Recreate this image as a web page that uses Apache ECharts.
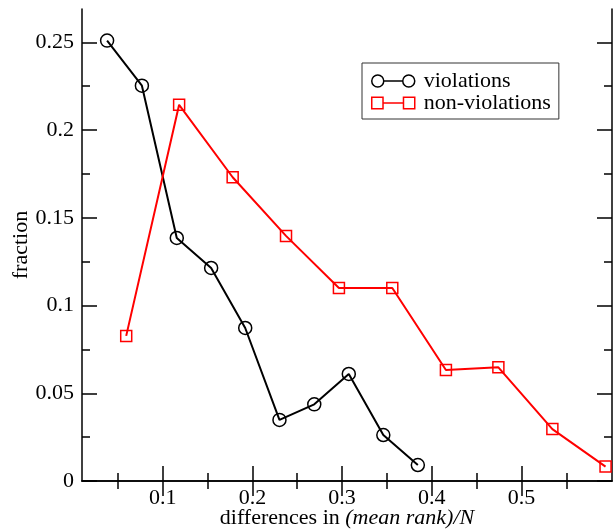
<!DOCTYPE html>
<html>
<head>
<meta charset="utf-8">
<script src="https://cdn.jsdelivr.net/npm/echarts@6/dist/echarts.min.js"></script>
<style>
  html, body { margin: 0; padding: 0; background: #fff; }
  #chart { width: 613px; height: 531px; }
</style>
</head>
<body>
<div id="chart"></div>
<script>
// values
const violX = [0.038, 0.0768, 0.1157, 0.154, 0.192, 0.2302, 0.269, 0.3075, 0.346, 0.3845];
const violY = [0.251, 0.2253, 0.1385, 0.1214, 0.0872, 0.0348, 0.0437, 0.061, 0.0262, 0.0091];
const nonX = [0.0593, 0.1183, 0.178, 0.2375, 0.2965, 0.356, 0.4158, 0.4743, 0.5345, 0.5938];
const nonY = [0.0827, 0.2144, 0.1731, 0.1397, 0.110, 0.110, 0.0633, 0.0648, 0.0296, 0.0082];

const xMajor = [0.1, 0.2, 0.3, 0.4, 0.5];
const xMinor = [0.05, 0.15, 0.25, 0.35, 0.45, 0.55];
const yMajor = [0, 0.05, 0.1, 0.15, 0.2, 0.25];
const yMinor = [0.025, 0.075, 0.125, 0.175, 0.225];

const FONT = '"Liberation Serif", "DejaVu Serif", serif';
const X_MIN = 0.01, X_MAX = 0.601;
const Y_MIN = 0, Y_MAX = 0.269;

// legend icons: marker - line - marker, like the grace style legend
const circleIcon = 'path://M0.5,6.5 A6,6 0 1,1 12.5,6.5 A6,6 0 1,1 0.5,6.5 Z M12.5,6.5 L31.5,6.5 '
  + 'M31.5,6.5 A6,6 0 1,1 43.5,6.5 A6,6 0 1,1 31.5,6.5 Z';
const rectIcon = 'path://M0.5,1 L11.5,1 L11.5,12 L0.5,12 Z M11.5,6.5 L31.5,6.5 '
  + 'M31.5,1 L42.5,1 L42.5,12 L31.5,12 Z';

const chart = echarts.init(document.getElementById('chart'));

// builds one axis: either the major ticks (with optional labels) or the minor ones
function axis(kind, pos, ticks, len, labels) {
  const isX = kind === 'x';
  return {
    type: 'value',
    position: pos,
    min: isX ? X_MIN : Y_MIN,
    max: isX ? X_MAX : Y_MAX,
    splitLine: { show: false },
    axisLine: { show: len === 15, lineStyle: { color: '#000', width: 1.5 } },
    axisTick: {
      show: true,
      inside: true,
      length: len,
      customValues: ticks,
      lineStyle: { color: '#000', width: 1.5 },
    },
    axisLabel: labels
      ? {
          show: true,
          customValues: ticks,
          margin: isX ? 6 : 8,
          color: '#000',
          fontFamily: FONT,
          fontSize: 22,
        }
      : { show: false },
  };
}

const xMain = axis('x', 'bottom', xMajor, 15, true);
xMain.name = '{n|differences in }{i|(mean rank)/N}';
xMain.nameLocation = 'middle';
xMain.nameGap = 26;
xMain.nameMoveOverlap = false;
xMain.nameTextStyle = {
  color: '#000',
  fontFamily: FONT,
  fontSize: 22,
  rich: {
    n: { fontFamily: FONT, fontSize: 22, color: '#000' },
    i: { fontFamily: FONT, fontSize: 22, fontStyle: 'italic', color: '#000' },
  },
};

const yMain = axis('y', 'left', yMajor, 15, true);
yMain.name = 'fraction';
yMain.nameLocation = 'middle';
yMain.nameGap = 50;
yMain.nameMoveOverlap = false;
yMain.nameTextStyle = { color: '#000', fontFamily: FONT, fontSize: 22 };

const option = {
  animation: false,
  backgroundColor: '#fff',
  grid: { left: 82, right: 1, top: 9, bottom: 50, containLabel: false, outerBoundsMode: 'none' },
  legend: {
    orient: 'vertical',
    left: 362,
    top: 63,
    padding: [7, 8, 5, 9],
    itemGap: 0,
    itemWidth: 43,
    itemHeight: 12,
    borderColor: '#333',
    borderWidth: 1,
    itemStyle: { borderWidth: 1.5 },
    textStyle: { color: '#000', fontFamily: FONT, fontSize: 22, lineHeight: 22, padding: [0, 0, 0, 4] },
    data: [
      { name: 'violations', icon: circleIcon },
      { name: 'non-violations', icon: rectIcon },
    ],
  },
  xAxis: [
    xMain,
    axis('x', 'bottom', xMinor, 8, false),
    axis('x', 'top', xMajor, 15, false),
    axis('x', 'top', xMinor, 8, false),
  ],
  yAxis: [
    yMain,
    axis('y', 'left', yMinor, 8, false),
    axis('y', 'right', yMajor, 15, false),
    axis('y', 'right', yMinor, 8, false),
  ],
  series: [
    {
      name: 'violations',
      type: 'line',
      xAxisIndex: 0,
      yAxisIndex: 0,
      symbol: 'circle',
      symbolSize: 13,
      lineStyle: { color: '#000', width: 2 },
      itemStyle: { color: 'transparent', borderColor: '#000', borderWidth: 1.5 },
      data: violX.map((x, i) => [x, violY[i]]),
    },
    {
      name: 'non-violations',
      type: 'line',
      xAxisIndex: 0,
      yAxisIndex: 0,
      symbol: 'rect',
      symbolSize: 11,
      lineStyle: { color: '#ff0000', width: 2 },
      itemStyle: { color: 'transparent', borderColor: '#ff0000', borderWidth: 1.5 },
      data: nonX.map((x, i) => [x, nonY[i]]),
    },
  ],
};

chart.setOption(option);
</script>
</body>
</html>
